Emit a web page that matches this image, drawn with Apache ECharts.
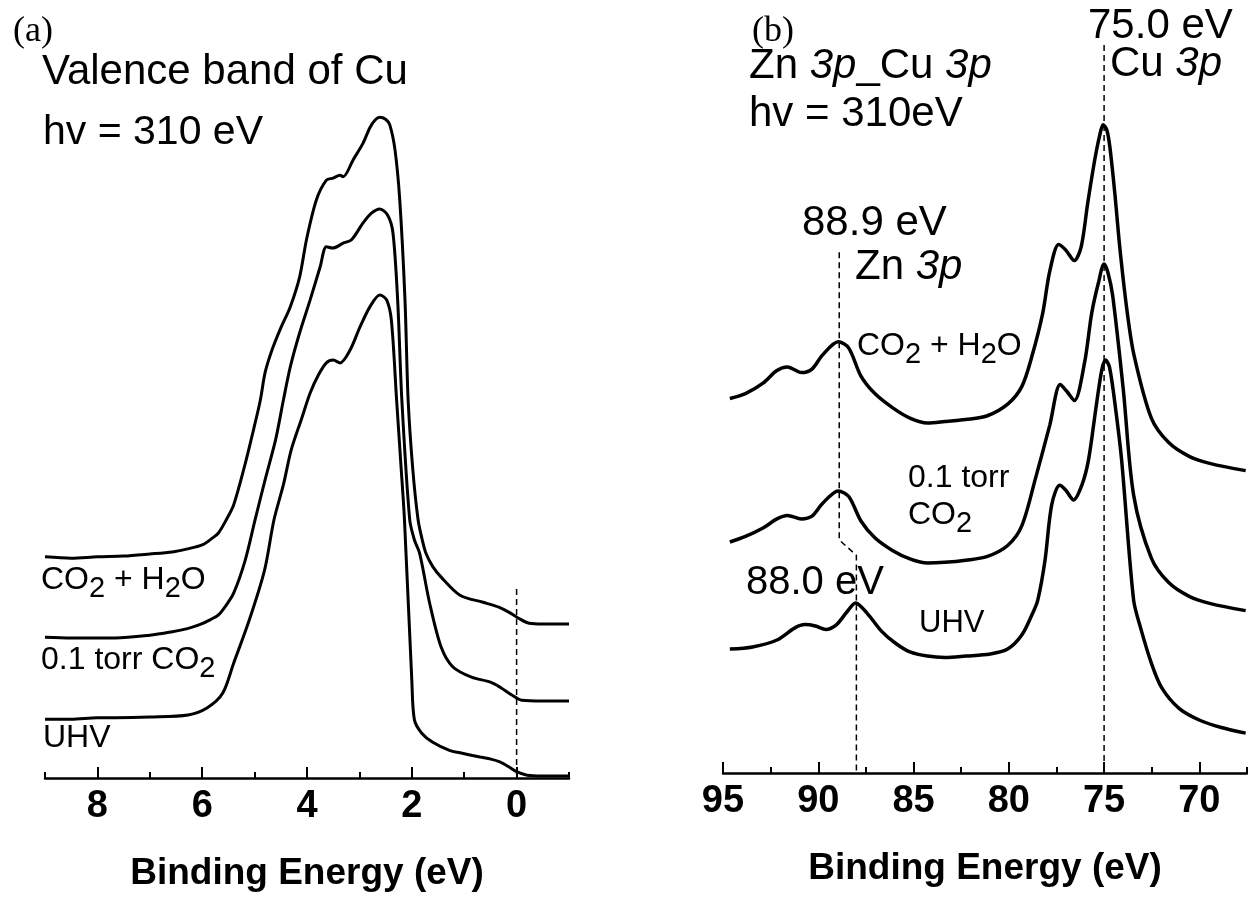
<!DOCTYPE html>
<html>
<head>
<meta charset="utf-8">
<script src="https://cdn.jsdelivr.net/npm/echarts@6.0.0/dist/echarts.min.js"></script>
<style>
  html, body { margin: 0; padding: 0; background: #fff; }
  #chart { width: 1248px; height: 900px; }
</style>
</head>
<body>
<div id="chart"></div>
<script>
// (a) valence band of Cu, [binding energy eV, intensity arb.]
const vbWet = [[9.0,31.6],[8.5,31.4],[8.0,31.6],[7.5,31.7],[7.0,32.0],[6.57,32.3],[6.3,32.7],[6.0,33.3],[5.8,34.3],[5.69,35.0],[5.54,36.9],[5.4,39.0],[5.2,44.3],[5.0,50.4],[4.89,54.0],[4.8,57.9],[4.67,61.1],[4.5,64.3],[4.32,67.3],[4.14,71.6],[4.01,76.9],[3.82,82.6],[3.63,85.4],[3.5,85.7],[3.37,86.1],[3.31,85.9],[3.12,88.3],[2.93,90.7],[2.8,92.9],[2.7,94.0],[2.61,94.4],[2.5,94.1],[2.42,93.3],[2.32,89.7],[2.23,82.6],[2.13,68.3],[2.07,54.0],[1.98,44.0],[1.88,36.9],[1.8,34.0],[1.73,32.1],[1.6,30.2],[1.44,28.7],[1.08,26.1],[0.64,25.1],[0.34,24.4],[0.15,23.7],[-0.02,22.9],[-0.24,22.1],[-0.5,22.0],[-1.0,22.0]];
const vbCo2 = [[9.0,20.1],[8.5,20.0],[8.0,20.0],[7.66,20.0],[7.0,20.4],[6.57,20.9],[6.3,21.3],[6.05,21.9],[5.85,22.6],[5.69,23.3],[5.55,24.6],[5.4,26.4],[5.18,31.1],[4.99,36.9],[4.8,42.6],[4.6,48.3],[4.45,54.0],[4.32,58.7],[4.14,63.6],[3.94,68.3],[3.75,73.0],[3.63,75.9],[3.51,75.7],[3.31,76.4],[3.15,76.9],[2.93,79.3],[2.77,80.7],[2.61,81.3],[2.46,80.4],[2.36,77.9],[2.27,68.3],[2.19,54.0],[2.04,36.9],[1.95,34.0],[1.85,32.1],[1.66,25.0],[1.44,18.7],[1.22,15.9],[0.86,14.4],[0.5,13.7],[0.3,12.9],[0.1,11.9],[-0.1,11.1],[-0.5,11.0],[-1.0,11.0]];
const vbUhv = [[9.0,8.4],[8.5,8.4],[8.0,8.6],[7.66,8.6],[7.0,8.7],[6.27,9.0],[5.91,10.0],[5.61,12.1],[5.4,16.4],[5.1,22.6],[4.81,29.7],[4.63,36.9],[4.45,41.9],[4.3,46.9],[4.1,51.4],[3.94,55.0],[3.78,57.6],[3.63,59.3],[3.5,59.7],[3.37,59.3],[3.18,61.1],[2.99,64.4],[2.8,67.3],[2.61,69.0],[2.48,68.3],[2.39,65.4],[2.29,54.0],[2.21,45.0],[2.14,36.9],[2.0,14.0],[1.95,8.3],[1.81,6.4],[1.6,5.1],[1.27,3.9],[1.08,3.6],[0.7,3.0],[0.49,2.7],[0.32,2.3],[0.15,1.6],[0.0,0.9],[-0.2,0.4],[-0.5,0.3],[-1.0,0.3]];
const vbFermi = [[0, 27], [0, 0]];
const vbTicks = [8, 6, 4, 2, 0];
const vbMinorTicks = [9, 7, 5, 3, 1, -1];

// (b) Zn 3p / Cu 3p
const pWet = [[94.64,53.5],[93.82,54.2],[92.9,55.7],[92.17,57.5],[91.62,58.0],[90.88,57.2],[90.33,57.7],[89.78,59.7],[88.95,61.6],[88.4,60.7],[87.76,56.7],[87.03,54.2],[86.11,52.2],[85.19,50.7],[84.27,50.0],[83.36,50.2],[82.26,50.5],[81.16,51.0],[80.06,52.7],[79.32,55.2],[78.77,59.7],[78.22,65.7],[77.85,71.7],[77.38,75.5],[77.01,74.7],[76.56,73.2],[76.2,75.2],[75.86,81.4],[75.49,87.6],[75.23,91.1],[75.05,92.6],[74.86,91.9],[74.7,89.5],[74.44,82.9],[74.18,75.2],[73.8,66.1],[73.43,59.7],[72.52,50.7],[71.61,47.2],[70.51,45.2],[69.41,44.2],[67.57,43.2]];
const pCo2 = [[94.64,33.0],[93.82,33.8],[92.9,35.0],[92.17,36.3],[91.62,36.8],[90.88,36.3],[90.33,36.7],[89.78,38.5],[88.95,40.3],[88.4,39.5],[87.76,36.0],[87.03,33.6],[86.11,31.8],[85.19,30.6],[84.27,30.0],[83.36,30.1],[82.26,30.4],[81.16,30.9],[80.06,32.5],[79.32,35.3],[78.59,42.2],[77.85,49.7],[77.3,55.5],[76.95,54.5],[76.56,53.2],[76.02,58.7],[75.65,65.7],[75.3,70.0],[75.0,72.7],[74.8,71.5],[74.55,68.2],[73.99,54.7],[73.45,39.7],[72.52,30.7],[71.61,27.2],[70.51,25.2],[69.41,24.2],[67.57,23.2]];
const pUhv = [[94.64,17.7],[93.45,18.0],[92.17,19.0],[91.25,20.7],[90.7,21.2],[90.15,21.0],[89.6,20.5],[89.04,21.2],[88.5,23.0],[88.04,24.3],[87.4,22.7],[86.66,20.2],[85.93,18.5],[85.19,17.3],[84.27,16.7],[83.36,16.5],[82.26,16.7],[80.97,17.0],[80.06,17.7],[79.32,19.7],[78.77,22.7],[78.48,24.7],[78.1,30.4],[77.75,38.3],[77.33,41.1],[77.01,40.4],[76.6,39.0],[76.17,41.1],[75.82,44.7],[75.44,51.9],[75.12,57.6],[74.92,59.0],[74.71,57.9],[74.39,51.9],[74.08,44.7],[73.45,24.7],[73.08,20.7],[72.52,15.7],[71.98,12.2],[71.05,9.2],[69.95,7.5],[68.85,6.5],[67.57,5.7]];
const cuLine = [[75.0, 104], [75.0, 0]];
const znLine = [[88.9, 74.4], [88.9, 33.3], [88.0, 31.1], [88.0, 0]];
const pTicks = [95, 90, 85, 80, 75, 70];
const pMinorTicks = [92.5, 87.5, 82.5, 77.5, 72.5, 67.5];

const SANS = 'Liberation Sans';
const SERIF = 'Liberation Serif';

function xAxisMain(grid, min, max, ticks) {
  return {
    type: 'value', gridIndex: grid, min: min, max: max, inverse: true, position: 'bottom',
    splitLine: { show: false },
    axisLine: { lineStyle: { color: '#000', width: 2.5 } },
    axisTick: { inside: true, length: 11, customValues: ticks, lineStyle: { color: '#000', width: 2 } },
    axisLabel: { customValues: ticks, margin: 10, color: '#000', fontFamily: SANS, fontWeight: 'bold', fontSize: 38 },
    name: 'Binding Energy (eV)', nameLocation: 'middle', nameGap: 77,
    nameTextStyle: { color: '#000', fontFamily: SANS, fontWeight: 'bold', fontSize: 37 }
  }
}
function xAxisMinor(grid, min, max, ticks) {
  return {
    type: 'value', gridIndex: grid, min: min, max: max, inverse: true, position: 'bottom',
    splitLine: { show: false },
    axisLine: { show: false },
    axisTick: { inside: true, length: 6, customValues: ticks, lineStyle: { color: '#000', width: 2 } },
    axisLabel: { show: false }
  }
}
function curve(xi, data, w) {
  return {
    type: 'line', xAxisIndex: xi, yAxisIndex: xi < 2 ? 0 : 1, data: data,
    showSymbol: false, smooth: 0.3, silent: true,
    lineStyle: { color: '#000', width: w }
  }
}
function dashed(xi, data) {
  return {
    type: 'line', xAxisIndex: xi, yAxisIndex: xi < 2 ? 0 : 1, data: data,
    showSymbol: false, silent: true,
    lineStyle: { color: '#000', width: 1.5, type: [6, 4] }
  }
}
function label(x, y, text, size, family) {
  return {
    type: 'text', x: x, y: y, silent: true,
    style: { text: text, fill: '#000', fontFamily: family || SANS, fontSize: size, align: 'left', verticalAlign: 'middle' }
  }
}
// rich text: n = normal, s = subscript, i = italic
function richLabel(x, y, text, size) {
  return {
    type: 'text', x: x, y: y, silent: true,
    style: {
      text: text, fill: '#000', align: 'left', verticalAlign: 'middle',
      rich: {
        n: { fontFamily: SANS, fontSize: size, color: '#000' },
        s: { fontFamily: SANS, fontSize: size - 3, color: '#000', padding: [18, 0, 0, 0] },
        i: { fontFamily: SANS, fontSize: size, fontStyle: 'italic', color: '#000' }
      }
    }
  }
}

const chart = echarts.init(document.getElementById('chart'))
chart.setOption({
  backgroundColor: '#fff',
  animation: false,
  grid: [
    { left: 45, width: 524, top: 8, bottom: 122 },
    { left: 723, width: 524, top: 3, bottom: 127 }
  ],
  xAxis: [
    xAxisMain(0, -1, 9, vbTicks),
    xAxisMinor(0, -1, 9, vbMinorTicks),
    xAxisMain(1, 67.5, 95, pTicks),
    xAxisMinor(1, 67.5, 95, pMinorTicks)
  ],
  yAxis: [
    { type: 'value', gridIndex: 0, min: 0, max: 110, show: false },
    { type: 'value', gridIndex: 1, min: 0, max: 110, show: false }
  ],
  series: [
    dashed(0, vbFermi),
    curve(0, vbWet, 3),
    curve(0, vbCo2, 3),
    curve(0, vbUhv, 3),
    dashed(2, cuLine),
    dashed(2, znLine),
    curve(2, pWet, 3.5),
    curve(2, pCo2, 3.5),
    curve(2, pUhv, 3.5)
  ],
  graphic: [
    label(13, 32, '(a)', 36, SERIF),
    label(42, 72, 'Valence band of Cu', 42),
    label(43, 133, 'hv = 310 eV', 41),
    richLabel(41, 580, '{n|CO}{s|2}{n| + H}{s|2}{n|O}', 32),
    richLabel(41, 660, '{n|0.1 torr CO}{s|2}', 32),
    label(43, 738, 'UHV', 32),

    label(752, 32, '(b)', 36, SERIF),
    richLabel(749, 66, '{n|Zn }{i|3p}{n|_Cu }{i|3p}', 42),
    label(749, 114, 'hv = 310eV', 42),
    label(1088, 26, '75.0 eV', 42),
    richLabel(1110, 64, '{n|Cu }{i|3p}', 42),
    label(802, 223, '88.9 eV', 42),
    richLabel(855, 267, '{n|Zn }{i|3p}', 42),
    richLabel(857, 346, '{n|CO}{s|2}{n| + H}{s|2}{n|O}', 32),
    label(908, 478, '0.1 torr', 32),
    richLabel(908, 515, '{n|CO}{s|2}', 32),
    label(919, 623, 'UHV', 31),
    label(746, 583, '88.0 eV', 40)
  ]
})
</script>
</body>
</html>
